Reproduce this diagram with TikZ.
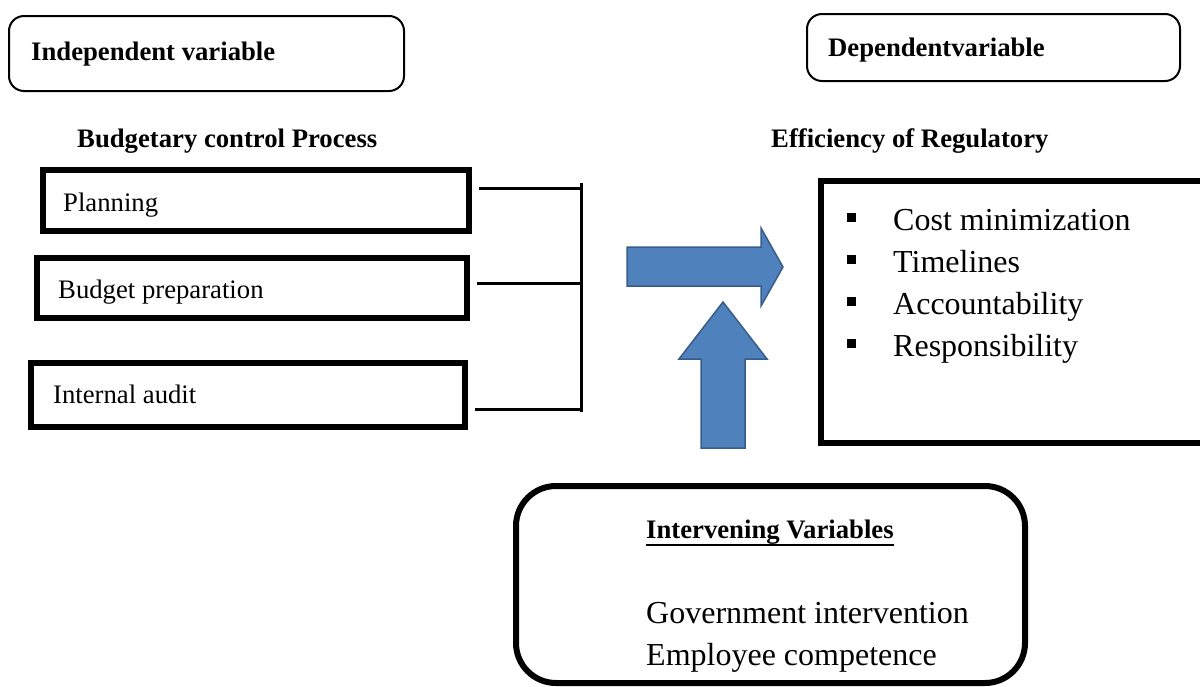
\documentclass[tikz,border=0pt]{standalone}
\usepackage{fontspec}
\setmainfont{Liberation Serif}
\definecolor{arrfill}{RGB}{79,129,189}
\definecolor{arrline}{RGB}{56,93,138}
\tikzset{
  lbl/.style={inner sep=0pt, anchor=base west, font=\fontsize{26.7}{32}\selectfont},
  head/.style={lbl, font=\fontsize{26.7}{32}\selectfont\bfseries},
  big/.style={lbl, font=\fontsize{32}{38}\selectfont},
  thinbox/.style={draw=black, line width=2pt, rounded corners=15pt, inner sep=0pt},
  tbox/.style={draw=black, line width=6pt, inner sep=0pt},
  rbox/.style={draw=black, line width=6pt, rounded corners=40pt, inner sep=0pt},
  bul/.style={fill=black, minimum size=9pt, inner sep=0pt},
  brk/.style={draw=black, line width=3pt},
  bigarrow/.style={fill=arrfill, draw=arrline, line width=1.5pt, line join=miter}
}
\begin{document}
\begin{tikzpicture}[x=1pt,y=-1pt]
\useasboundingbox (0,0) rectangle (1200,686);
% top label boxes
\node[thinbox, minimum width=395pt, minimum height=75pt] (ind) at (206.5,53.5) {};
\node[head] (indT) at (31,60) {Independent variable};
\node[thinbox, minimum width=373pt, minimum height=67pt] (dep) at (993.5,47.5) {};
\node[head] (depT) at (828,56) {Dependentvariable};
% headings
\node[head] (bcp) at (77,147) {Budgetary control Process};
\node[head] (eor) at (771,147) {Efficiency of Regulatory};
% left boxes
\node[tbox, minimum width=426pt, minimum height=61pt] (plan) at (256,200.5) {};
\node[lbl] (planT) at (63,211) {Planning};
\node[tbox, minimum width=430pt, minimum height=60pt] (bud) at (252,288) {};
\node[lbl] (budT) at (58,298) {Budget preparation};
\node[tbox, minimum width=434pt, minimum height=64pt] (aud) at (248,395) {};
\node[lbl] (audT) at (53,403) {Internal audit};
% bracket
\coordinate (b1) at (479,188);
\coordinate (b2) at (477,283);
\coordinate (b3) at (475,409);
\coordinate (vt) at (581,183);
\coordinate (vb) at (581,412);
\draw[brk] (b1) -- (b1 -| vt);
\draw[brk] (b2) -- (b2 -| vt);
\draw[brk] (b3) -- (b3 -| vt);
\draw[brk] (vt) -- (vb);
% right box
\node[tbox, minimum width=409pt, minimum height=262pt] (eff) at (1025.5,312) {};
\node[bul] (s1) at (851,217) {};
\node[big] (c1) at (893,230) {Cost minimization};
\node[bul] (s2) at (851,259) {};
\node[big] (c2) at (893,272) {Timelines};
\node[bul] (s3) at (851,301) {};
\node[big] (c3) at (893,314) {Accountability};
\node[bul] (s4) at (851,343) {};
\node[big] (c4) at (893,356) {Responsibility};
% arrows
\draw[bigarrow] (627,247) -- (761,247) -- (761,228) -- (783,267) -- (761,306) -- (761,286) -- (627,286) -- cycle;
\draw[bigarrow] (701,448) -- (701,359) -- (679,359) -- (723,302) -- (767,359) -- (745,359) -- (745,448) -- cycle;
% intervening box
\node[rbox, minimum width=509pt, minimum height=197pt] (itv) at (770.5,584.5) {};
\node[head] (itvT) at (646,538) {Intervening Variables};
\draw[line width=2pt] ([yshift=-7pt]itvT.base west) -- ([yshift=-7pt]itvT.base east);
\node[big] (g1) at (646,623) {Government intervention};
\node[big] (g2) at (646,665) {Employee competence};
\end{tikzpicture}
\end{document}
